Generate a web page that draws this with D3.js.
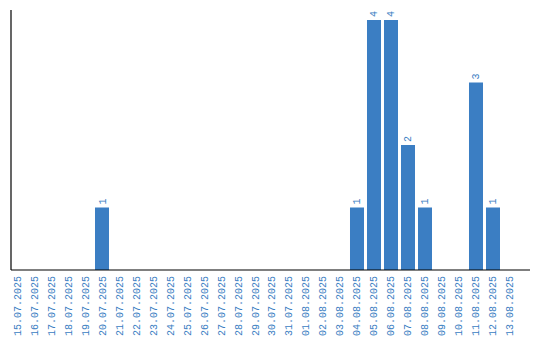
<!DOCTYPE html>
<html>
<head>
<meta charset="utf-8">
<script src="https://cdn.jsdelivr.net/npm/d3@7"></script>
<style>
  body { margin: 0; background: #fff; }
  text { font-family: "Liberation Mono", monospace; fill: #3a7dc2; }
</style>
</head>
<body>
<div id="chart"></div>
<script>
// dates shown on the x axis
var dates = ["15.07.2025", "16.07.2025", "17.07.2025", "18.07.2025", "19.07.2025",
    "20.07.2025", "21.07.2025", "22.07.2025", "23.07.2025", "24.07.2025",
    "25.07.2025", "26.07.2025", "27.07.2025", "28.07.2025", "29.07.2025",
    "30.07.2025", "31.07.2025", "01.08.2025", "02.08.2025", "03.08.2025",
    "04.08.2025", "05.08.2025", "06.08.2025", "07.08.2025", "08.08.2025",
    "09.08.2025", "10.08.2025", "11.08.2025", "12.08.2025", "13.08.2025"];
var counts = [0, 0, 0, 0, 0, 1, 0, 0, 0, 0,
    0, 0, 0, 0, 0, 0, 0, 0, 0, 0,
    1, 4, 4, 2, 1, 0, 0, 3, 1, 0];

var width = 540, height = 340;
var margin = {left: 11, right: 530, top: 10, base: 270};

var svg = d3.select("#chart").append("svg")
    .attr("width", width)
    .attr("height", height);

var x = d3.scaleBand()
    .domain(dates)
    .range([10, 517])
    .paddingInner(0.176)
    .paddingOuter(0);

var y = d3.scaleLinear()
    .domain([0, d3.max(counts) * 1.04])
    .range([margin.base, margin.top]);

var data = dates.map(function(d, i) { return {date: d, value: counts[i]}; });
var nonZero = data.filter(function(d) { return d.value > 0; });

// bars
svg.selectAll("rect.bar")
    .data(nonZero)
    .enter().append("rect")
    .attr("class", "bar")
    .attr("x", function(d) { return x(d.date); })
    .attr("y", function(d) { return y(d.value); })
    .attr("width", x.bandwidth())
    .attr("height", function(d) { return margin.base - y(d.value); })
    .style("fill", "#3b7ec3");

// value labels
svg.selectAll("text.val")
    .data(nonZero)
    .enter().append("text")
    .attr("class", "val")
    .attr("transform", function(d) {
        return "translate(" + (x(d.date) + x.bandwidth() / 2 + 3.5) + "," + (y(d.value) - 3) + ") rotate(-90)";
    })
    .attr("text-anchor", "start")
    .style("font-size", "10px")
    .text(function(d) { return d.value; });

// x axis labels
var xAxis = d3.axisBottom(x).tickSize(0).tickPadding(0);
var gx = svg.append("g")
    .attr("transform", "translate(0," + margin.base + ")")
    .call(xAxis);
gx.select(".domain").remove();
gx.selectAll("text")
    .attr("transform", "rotate(-90)")
    .attr("x", -6)
    .attr("y", 0)
    .attr("dy", "0.35em")
    .attr("text-anchor", "end")
    .style("font-size", "10px")
    .style("font-family", "'Liberation Mono', monospace")
    .style("fill", "#3a7dc2");

// axis lines
svg.append("line")
    .attr("x1", margin.left).attr("x2", margin.left)
    .attr("y1", margin.top).attr("y2", margin.base)
    .style("stroke", "#000").style("stroke-width", 1.2);
svg.append("line")
    .attr("x1", margin.left).attr("x2", margin.right)
    .attr("y1", margin.base).attr("y2", margin.base)
    .style("stroke", "#000").style("stroke-width", 1.2);
</script>
</body>
</html>
